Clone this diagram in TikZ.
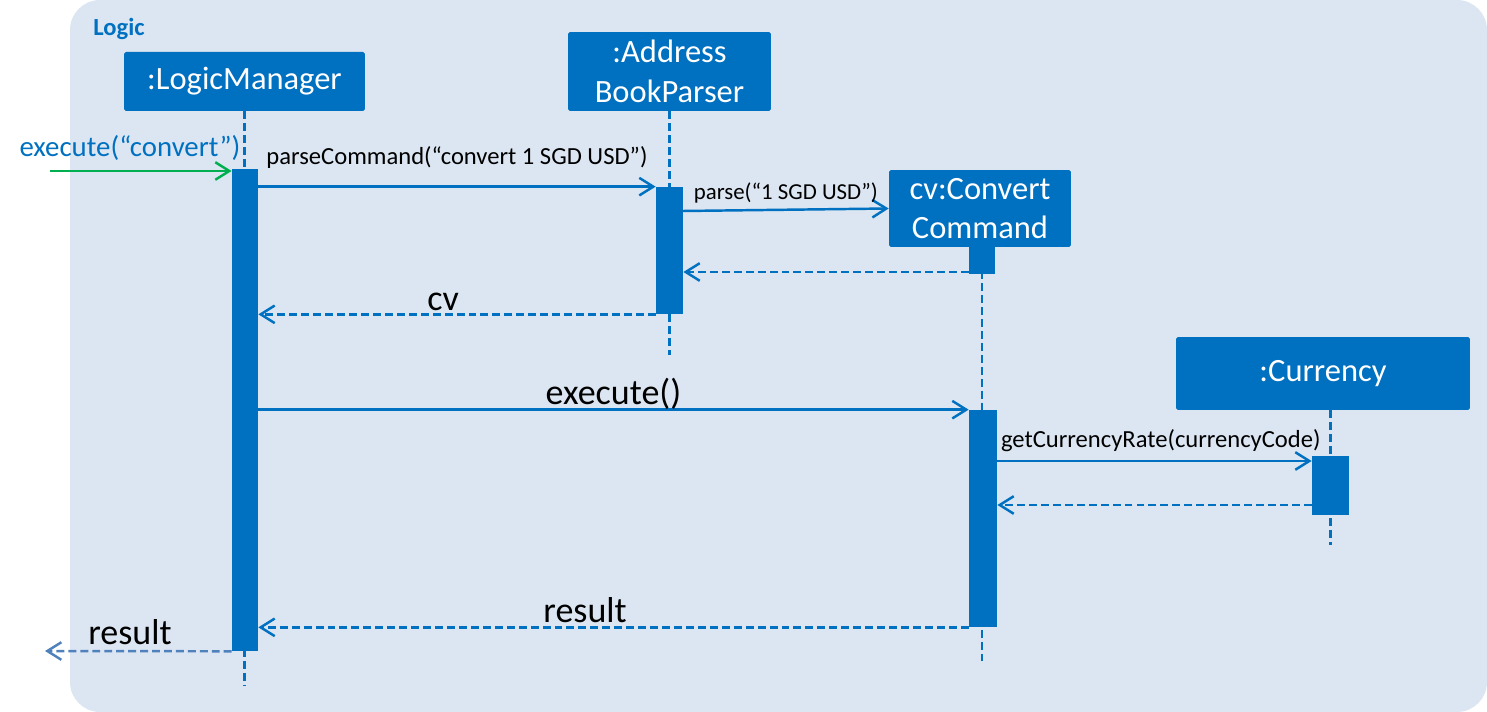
\documentclass[tikz,border=0pt]{standalone}
\usepackage{fontspec}
\setmainfont{Carlito}
\usetikzlibrary{arrows.meta, positioning}

\definecolor{umlblue}{HTML}{0070C0}
\definecolor{framebg}{HTML}{DCE6F2}
\definecolor{callgreen}{HTML}{00B050}
\definecolor{retblue}{HTML}{4F81BD}

\begin{document}
\begin{tikzpicture}[
			x=0.02cm, y=-0.02cm,
			actor/.style={fill=umlblue, rounded corners=1pt, text=white, align=center, inner sep=0pt, font=\fontsize{18.5}{22.5}\selectfont},
			activation/.style={fill=umlblue, inner sep=0pt, minimum width=0.52cm},
			lifeline/.style={umlblue, line width=1.4pt, dash pattern=on 4.5pt off 2.3pt},
			call/.style={umlblue, line width=1.4pt, -{Straight Barb[length=8pt, width=10pt]}},
			reply/.style={call, dash pattern=on 4.5pt off 2.3pt},
			lbl/.style={anchor=base, inner sep=0pt, text=black},
			small/.style={lbl, font=\fontsize{14}{16}\selectfont},
			big/.style={lbl, font=\fontsize{20.5}{24}\selectfont}
			]
			\useasboundingbox (0,0) rectangle (1487,712);
			
			% Frame
			\fill[framebg, rounded corners=0.6cm] (70,0) rectangle (1487,712);
			\node[anchor=west, inner sep=0pt, text=umlblue, font=\fontsize{14}{16}\selectfont\bfseries] (frametitle) at (93,29) {Logic};
			
			% Nodes
			\node[actor, minimum width=4.82cm, minimum height=1.18cm] (lm) at (244.5,81.5) {:LogicManager};
			\node[actor, minimum width=4.06cm, minimum height=1.58cm] (abp) at (669.5,71.5) {:Address\\BookParser};
			\node[actor, minimum width=3.64cm, minimum height=1.54cm] (cc) at (980,208.5) {cv:Convert\\Command};
			\node[actor, minimum width=5.88cm, minimum height=1.46cm] (cur) at (1323,373.5) {:Currency};
			
			% Lifeline ends
			\coordinate (lmend) at (0,685);
			\coordinate (abpend) at (0,355);
			\coordinate (ccend) at (0,662);
			\coordinate (curend) at (0,545);
			
			\draw[lifeline] (lm.south) -- (lm.south |- lmend);
			\draw[lifeline] (abp.south) -- (abp.south |- abpend);
			\draw[lifeline] (cc.south -| 982,0) -- (ccend -| 982,0);
			\draw[lifeline] (cur.south -| 1330.5,0) -- (curend -| 1330.5,0);
			
			% Activations
			\node[activation, minimum height=9.64cm] (lmact) at (245,410) {};
			\node[activation, minimum width=0.54cm, minimum height=2.54cm] (abpact) at (669.5,250.5) {};
			\node[activation, minimum height=0.54cm] (cvact) at (982,260.5) {};
			\node[activation, minimum width=0.56cm, minimum height=4.34cm] (execact) at (983,518.5) {};
			\node[activation, minimum width=0.74cm, minimum height=1.18cm] (curact) at (1330.5,485.5) {};
			
			% Message levels
			\coordinate (extin) at (50,171);
			\coordinate (parsefrom) at (683,211);
			\coordinate (cvback) at (0,272);
			\coordinate (rateask) at (0,461);
			\coordinate (rateback) at (0,505);
			\coordinate (extout) at (45,651);
			
			% Connections
			\draw[call, callgreen] (extin) -- node[lbl, pos=0.44, yshift=8.4pt, text=umlblue, font=\fontsize{16.4}{19}\selectfont] {execute(“convert”)} (extin -| lmact.west);
			\draw[call] (lmact.east |- abpact.north) -- node[small, yshift=12.5pt] {parseCommand(“convert 1 SGD USD”)} (abpact.north west);
			\draw[call] (parsefrom) -- node[small, yshift=5.7pt, font=\fontsize{13}{15}\selectfont] {parse(“1 SGD USD”)} (cc.west);
			\draw[reply] (cvact.west |- cvback) -- (abpact.east |- cvback);
			\draw[reply] (abpact.south west) -- node[big, pos=0.535, yshift=2.3pt] {cv} (abpact.south -| lmact.east);
			\draw[call] (lmact.east |- execact.north) -- node[big, yshift=2.8pt] {execute()} (execact.north west);
			\draw[call] (execact.east |- rateask) -- node[small, pos=0.52, yshift=7.5pt] {getCurrencyRate(currencyCode)} (curact.west |- rateask);
			\draw[reply] (curact.west |- rateback) -- (execact.east |- rateback);
			\draw[reply] (execact.south west) -- node[big, pos=0.54, yshift=2.8pt] {result} (execact.south -| lmact.east);
			\draw[reply, retblue] (lmact.south west) -- node[big, pos=0.545, yshift=4pt] {result} (extout);
			
\end{tikzpicture}
\end{document}
